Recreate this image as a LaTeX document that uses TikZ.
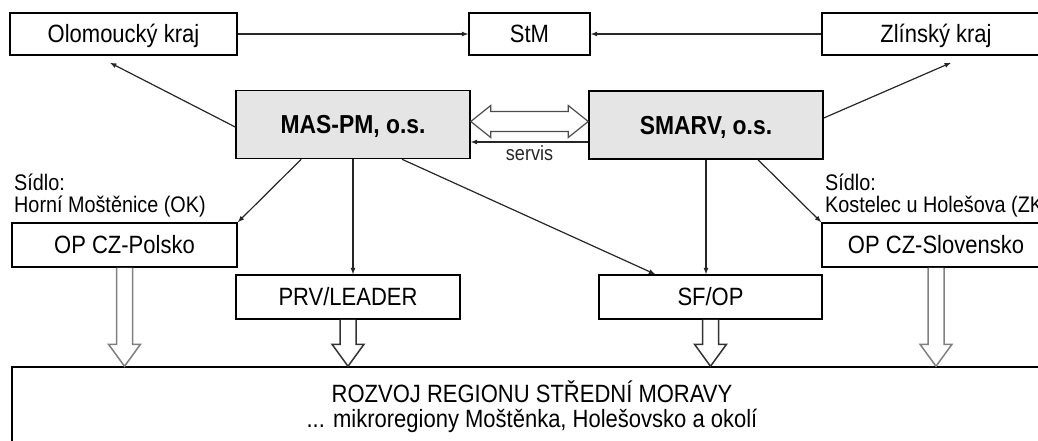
\documentclass[tikz,border=0pt]{standalone}
\usepackage{fontspec}
\setmainfont[FakeStretch=0.88]{Liberation Sans}
\usetikzlibrary{calc}

\begin{document}
\begin{tikzpicture}[x=1pt, y=-1pt,
    font=\fontsize{25}{25}\selectfont,
    box/.style={draw, line width=1.5pt, inner sep=0pt, minimum height=42pt, text height=17.9pt, text depth=0pt},
    org/.style={box, fill=black!10, font=\fontsize{26}{26}\selectfont\bfseries, minimum width=234pt, minimum height=68pt, text height=18.6pt},
    conn/.style={-latex, line width=1.2pt, black!85},
    flow/.style={line width=1.5pt, fill=white},
    sidlo/.style={anchor=south west, inner sep=0pt, align=left, font=\fontsize{22.5}{22}\selectfont}]

    \useasboundingbox (0,0) rectangle (1038,440);

    % kraje a StM
    \node[box, minimum width=227pt] (olomouc) at (123.5,34) {Olomoucký kraj};
    \node[box, minimum width=121pt] (stm) at (529.5,34) {StM};
    \node[box, minimum width=228pt] (zlin) at (936,34) {Zlínský kraj};

    % sdruzeni
    \node[org] (maspm) at (353,124.5) {MAS-PM, o.s.};
    \node[org] (smarv) at (706,125) {SMARV, o.s.};

    % programy
    \node[box, minimum width=225pt, minimum height=44pt] (polsko) at (124.5,245) {OP CZ-Polsko};
    \node[box, minimum width=228pt, minimum height=44pt] (slovensko) at (936,245) {OP CZ-Slovensko};
    \node[box, minimum width=224pt, minimum height=44pt] (prv) at (348,297) {PRV/LEADER};
    \node[box, minimum width=223pt, minimum height=44pt] (sfop) at (710.5,297) {SF/OP};

    \node[sidlo] (sidlopm) at (14,217) {Sídlo:\\Horní Moštěnice (OK)};
    \node[sidlo] (sidlosm) at (825,217) {Sídlo:\\Kostelec u Holešova (ZK)};

    % rozvoj regionu
    \node[draw, line width=1.5pt, minimum width=1040pt, minimum height=80pt, align=center] (rozvoj) at (532,407)
        {ROZVOJ REGIONU STŘEDNÍ MORAVY\\... mikroregiony Moštěnka, Holešovsko a okolí};

    \draw[conn] (olomouc) -- (stm);
    \draw[conn] (zlin) -- (stm);
    \draw[conn] ([yshift=-2.5pt]maspm.west) -- ($(olomouc.south)+(-13.5,7)$);
    \draw[conn] ([yshift=7pt]smarv.east) -- ($(zlin.south)+(15,7)$);

    % spoluprace
    \coordinate (dl) at ([yshift=3pt]maspm.east);
    \coordinate (dr) at ([yshift=3.5pt]smarv.west);
    \draw[line width=1.2pt, black!70, fill=white] (dl) -- ++(20,-16) -- ++(0,6) -- ($(dr)+(-20,-10)$) -- ++(0,-6) -- (dr)
        -- ++(-20,16) -- ++(0,-6) -- ($(dl)+(20,10)$) -- ++(0,6) -- cycle;
    \draw[conn] ([yshift=-17pt]smarv.west) -- node[below, font=\fontsize{20.5}{22}\selectfont] (servis) {servis}
        ([yshift=-17pt]smarv.west -| maspm.east);

    \draw[conn] ($(maspm.south west)+(66,0)$) -- (polsko.north east);
    \draw[conn] (maspm.south) -- (maspm.south |- prv.north);
    \draw[conn] ($(maspm.south)+(49,0)$) -- ($(sfop.north west)+(57,0)$);
    \draw[conn] (smarv.south) -- (smarv.south |- sfop.north);
    \draw[conn] ($(smarv.south)+(52,0)$) -- (slovensko.north west);

    \foreach \src/\col in {polsko/black!50, prv/black!80, sfop/black!80, slovensko/black!50}
    \draw[flow, draw=\col] ($(\src.south)+(-8,0)$) -- ($(\src.south |- rozvoj.north)+(-8,-22)$) -- ++(-8,0)
        -- (\src.south |- rozvoj.north) -- ++(16,-22) -- ++(-8,0) -- ($(\src.south)+(8,0)$);
\end{tikzpicture}
\end{document}
